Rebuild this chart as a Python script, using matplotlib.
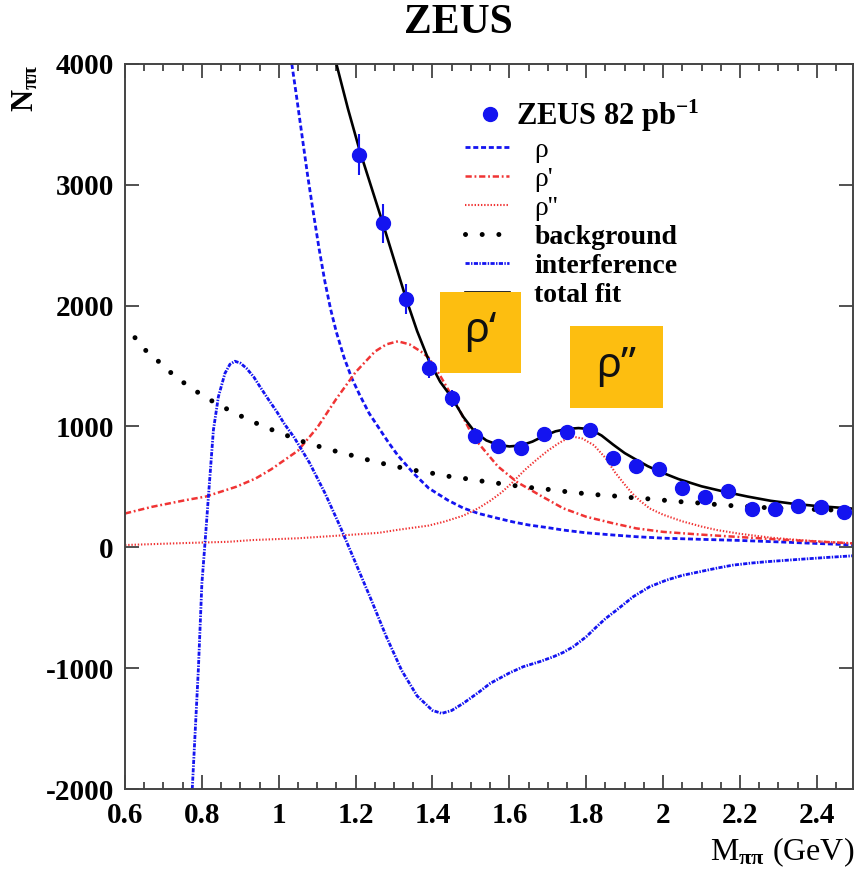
import matplotlib
matplotlib.use("Agg")
import matplotlib.pyplot as plt
from matplotlib.patches import Rectangle
from matplotlib.ticker import MultipleLocator, FixedLocator

plt.rcParams["lines.scale_dashes"] = False
plt.rcParams["mathtext.fontset"] = "custom"
plt.rcParams["mathtext.rm"] = "Liberation Serif:bold"
plt.rcParams["mathtext.bf"] = "Liberation Serif:bold"
plt.rcParams["mathtext.it"] = "Liberation Serif:bold"

SERIF = "Liberation Serif"

# ZEUS 82 pb^-1 measured pi+pi- mass spectrum
m_data = [1.21, 1.27, 1.33, 1.39, 1.45, 1.51, 1.57, 1.63, 1.69, 1.75, 1.81,
          1.87, 1.93, 1.99, 2.05, 2.11, 2.17, 2.23, 2.29, 2.35, 2.41, 2.47]
n_data = [3250, 2680, 2055, 1485, 1235, 925, 840, 820, 940, 957, 968,
          737, 677, 646, 493, 419, 469, 315, 320, 342, 331, 292]
n_err = [170, 165, 125, 80, 70, 60, 55, 55, 55, 55, 55,
         50, 45, 45, 40, 40, 40, 35, 35, 35, 35, 35]

# rho(770) contribution
m_rho = [1.034, 1.045, 1.06, 1.075, 1.09, 1.105, 1.12, 1.135, 1.15, 1.17, 1.19,
         1.21, 1.235, 1.26, 1.285, 1.31, 1.35, 1.39, 1.44, 1.48, 1.52, 1.57,
         1.61, 1.65, 1.70, 1.74, 1.80, 1.87, 1.93, 2.00, 2.10, 2.20, 2.30, 2.40, 2.494]
n_rho = [4000, 3760, 3420, 3080, 2770, 2470, 2200, 1970, 1780, 1570, 1400,
         1265, 1110, 990, 870, 760, 615, 490, 390, 325, 280, 240,
         210, 185, 163, 143, 120, 102, 88, 76, 66, 57, 45, 32, 20]

# rho' contribution
m_rho1 = [0.60, 0.67, 0.76, 0.81, 0.89, 0.94, 0.98, 1.05, 1.10, 1.15, 1.20,
          1.25, 1.28, 1.31, 1.34, 1.37, 1.39, 1.42, 1.46, 1.50, 1.52, 1.57,
          1.62, 1.68, 1.74, 1.80, 1.87, 1.93, 2.00, 2.10, 2.20, 2.30, 2.40, 2.494]
n_rho1 = [280, 335, 392, 420, 502, 570, 645, 800, 990, 1230, 1450,
          1620, 1680, 1705, 1680, 1620, 1570, 1420, 1200, 950, 860, 670,
          540, 430, 323, 253, 199, 157, 128, 105, 85, 65, 48, 33]

# rho'' contribution
m_rho2 = [0.60, 0.75, 0.87, 0.93, 1.05, 1.17, 1.26, 1.31, 1.39, 1.43, 1.48,
          1.52, 1.55, 1.58, 1.61, 1.64, 1.67, 1.70, 1.73, 1.75, 1.766, 1.79,
          1.82, 1.85, 1.875, 1.90, 1.92, 1.94, 1.965, 2.00, 2.05, 2.10, 2.14,
          2.20, 2.28, 2.356, 2.42, 2.494]
n_rho2 = [19, 35, 46, 60, 75, 100, 120, 145, 180, 212, 262,
          325, 385, 455, 543, 640, 723, 800, 865, 900, 916, 900,
          845, 740, 620, 520, 445, 385, 322, 270, 215, 172, 143,
          112, 80, 60, 46, 33]

# non-resonant background
m_bkg = [0.626, 0.656, 0.693, 0.727, 0.766, 0.806, 0.845, 0.889, 0.932, 0.975,
         1.02, 1.064, 1.107, 1.152, 1.20, 1.246, 1.289, 1.341, 1.385, 1.437,
         1.497, 1.545, 1.591, 1.636, 1.685, 1.731, 1.779, 1.825, 1.873, 1.92,
         1.967, 2.015, 2.062, 2.11, 2.156, 2.204, 2.251, 2.35, 2.442, 2.494]
n_bkg = [1735, 1622, 1523, 1423, 1332, 1248, 1178, 1106, 1040, 982,
         927, 874, 833, 792, 753, 711, 681, 643, 622, 590,
         564, 540, 522, 500, 486, 467, 450, 436, 425, 411,
         400, 386, 373, 364, 348, 342, 331, 318, 309, 305]

# interference term
m_int = [0.775, 0.783, 0.791, 0.80, 0.808, 0.817, 0.83, 0.843, 0.86, 0.873,
         0.886, 0.90, 0.916, 0.935, 0.951, 0.975, 0.995, 1.015, 1.04, 1.08,
         1.12, 1.16, 1.20, 1.24, 1.28, 1.32, 1.36, 1.40, 1.424, 1.45,
         1.48, 1.52, 1.55, 1.60, 1.636, 1.68, 1.714, 1.74, 1.766, 1.80,
         1.827, 1.85, 1.879, 1.922, 1.965, 2.009, 2.05, 2.095, 2.14, 2.182,
         2.23, 2.269, 2.356, 2.42, 2.494]
n_int = [-2000, -1500, -1000, -300, 30, 419, 971, 1247, 1440, 1515,
         1540, 1525, 1482, 1410, 1330, 1215, 1122, 1020, 910, 700,
         450, 170, -130, -430, -740, -1020, -1230, -1350, -1374, -1350,
         -1291, -1200, -1126, -1040, -988, -945, -906, -870, -823, -740,
         -657, -590, -519, -409, -326, -271, -232, -202, -172, -147,
         -130, -119, -99, -85, -70]

# total fit
m_fit = [1.15, 1.18, 1.21, 1.24, 1.27, 1.30, 1.33, 1.36, 1.39, 1.42, 1.45,
         1.48, 1.51, 1.54, 1.57, 1.60, 1.63, 1.66, 1.69, 1.72, 1.75, 1.78,
         1.81, 1.84, 1.87, 1.90, 1.93, 1.96, 1.99, 2.04, 2.10, 2.16, 2.22,
         2.28, 2.34, 2.40, 2.46, 2.494]
n_fit = [4000, 3630, 3290, 2990, 2690, 2380, 2070, 1790, 1550, 1370, 1240,
         1080, 955, 885, 848, 835, 843, 875, 922, 960, 980, 987,
         978, 925, 850, 780, 725, 672, 628, 565, 505, 460, 420,
         385, 360, 342, 328, 320]

x_ticks = [0.6, 0.8, 1.0, 1.2, 1.4, 1.6, 1.8, 2.0, 2.2, 2.4]
x_tick_labels = ["0.6", "0.8", "1", "1.2", "1.4", "1.6", "1.8", "2", "2.2", "2.4"]
y_ticks = [-2000, -1000, 0, 1000, 2000, 3000, 4000]
y_tick_labels = ["-2000", "-1000", "0", "1000", "2000", "3000", "4000"]

BLUE = "#1414f0"
RED = "#f03434"

fig = plt.figure(figsize=(8.57, 8.72), dpi=100)
ax = fig.add_axes([125 / 857, 1 - 789 / 872, (853 - 125) / 857, (789 - 64) / 872])

l_rho, = ax.plot(m_rho, n_rho, color=BLUE, lw=2.0, linestyle=(0, (3.6, 2.0)))
l_rho1, = ax.plot(m_rho1, n_rho1, color=RED, lw=1.8, linestyle=(0, (4.5, 2.0, 1.3, 2.0)))
l_rho2, = ax.plot(m_rho2, n_rho2, color=RED, lw=1.5, linestyle=(0, (1.0, 1.3)))
l_bkg, = ax.plot(m_bkg, n_bkg, color="black", lw=3.6, linestyle=(0, (0.01, 12)),
                 dash_capstyle="round")
l_int, = ax.plot(m_int, n_int, color=BLUE, lw=2.0, linestyle=(0, (3.0, 1.0, 1.0, 1.0)))
l_fit, = ax.plot(m_fit, n_fit, color="black", lw=1.9)
eb = ax.errorbar(m_data, n_data, yerr=n_err, fmt="o", color=BLUE, ms=10,
                 elinewidth=1.5, capsize=0, zorder=5)

ax.set_xlim(0.6, 2.494)
ax.set_ylim(-2000, 4000)
ax.xaxis.set_major_locator(FixedLocator(x_ticks))
ax.set_xticklabels(x_tick_labels)
ax.xaxis.set_minor_locator(MultipleLocator(0.05))
ax.set_yticks(y_ticks)
ax.set_yticklabels(y_tick_labels)

ax.tick_params(which="both", direction="in", top=True, right=True, colors="#333333")
ax.tick_params(which="major", length=10, width=1.2)
ax.tick_params(which="minor", length=5, width=1.2)
ax.tick_params(axis="x", pad=9)
ax.tick_params(axis="y", pad=8)
for lab in ax.get_xticklabels() + ax.get_yticklabels():
    lab.set_fontfamily(SERIF)
    lab.set_fontweight("bold")
    lab.set_fontsize(21)
    lab.set_color("black")
for sp in ax.spines.values():
    sp.set_color("#444444")
    sp.set_linewidth(1.4)

fig.text(458 / 857, 1 - 23 / 872, "ZEUS", ha="center", va="center",
         fontfamily=SERIF, fontweight="bold", fontsize=30)
fig.text(25 / 857, 1 - 88 / 872, r"$\mathbf{N}_{\pi\pi}$", rotation=90,
         ha="center", va="center", fontsize=22)
fig.text(854 / 857, 1 - 852 / 872, r"M$_{\pi\pi}$ (GeV)", ha="right", va="center",
         fontfamily=SERIF, fontsize=23)

# annotation boxes for the excited states
box_style = dict(facecolor="#fdbe10", edgecolor="none", zorder=8)
ax.add_patch(Rectangle((1.419, 1440), 0.21, 676, **box_style))
ax.add_patch(Rectangle((1.757, 1151), 0.243, 681, **box_style))
ax.text(1.524, 1790, "ρ‘", ha="center", va="center", fontsize=30,
        family=["Noto Sans", "DejaVu Sans"], color="#111111", zorder=9)
ax.text(1.878, 1500, "ρ”", ha="center", va="center", fontsize=30,
        family=["Noto Sans", "DejaVu Sans"], color="#111111", zorder=9)

leg1 = ax.legend([eb[0]], [r"ZEUS 82 pb$^{-1}$"], loc="upper left",
                 bbox_to_anchor=(0.485, 0.954), frameon=False, borderpad=0,
                 borderaxespad=0, handlelength=0.8, handletextpad=0.45,
                 prop=dict(family=SERIF, weight="bold", size=22))
ax.add_artist(leg1)

leg2 = ax.legend([l_rho, l_rho1, l_rho2, l_bkg, l_int, l_fit],
                 ["ρ", "ρ'", "ρ''", "background", "interference", "total fit"],
                 loc="upper left", bbox_to_anchor=(0.467, 0.899), frameon=False,
                 borderpad=0, borderaxespad=0, handlelength=1.6,
                 handletextpad=0.9, labelspacing=0.13,
                 prop=dict(family=SERIF, weight="bold", size=20))
for t in leg2.get_texts()[:3]:
    t.set_fontweight("normal")

fig.savefig("out.png", dpi=100)
